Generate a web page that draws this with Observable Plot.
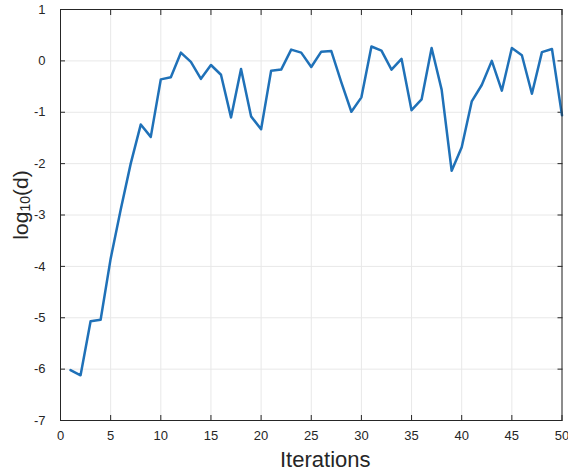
<!DOCTYPE html>
<html><head><meta charset="utf-8">
<script src="https://cdn.jsdelivr.net/npm/d3@7"></script>
<script src="https://cdn.jsdelivr.net/npm/@observablehq/plot@0.6"></script>
<style>html,body{margin:0;padding:0;background:#fff;} svg{display:block}</style>
</head><body><div id="chart"></div>
<script>
const iterations = [1,2,3,4,5,6,7,8,9,10,11,12,13,14,15,16,17,18,19,20,21,22,23,24,25,26,27,28,29,30,31,32,33,34,35,36,37,38,39,40,41,42,43,44,45,46,47,48,49,50];
const logD = [-6.02,-6.12,-5.07,-5.04,-3.85,-2.90,-2.00,-1.24,-1.48,-0.36,
              -0.32,0.16,-0.02,-0.35,-0.08,-0.27,-1.10,-0.16,-1.08,-1.33,
              -0.19,-0.17,0.22,0.16,-0.12,0.18,0.19,-0.42,-0.99,-0.71,
              0.28,0.20,-0.17,0.04,-0.96,-0.75,0.25,-0.56,-2.14,-1.68,
              -0.79,-0.47,0.00,-0.58,0.25,0.11,-0.64,0.17,0.23,-1.06];
const xTicks = [0,5,10,15,20,25,30,35,40,45,50];
const yTicks = [-7,-6,-5,-4,-3,-2,-1,0,1];
const xLabel = "Iterations";
const yLabelParts = ["log", "10", "(d)"];

const data = iterations.map((x, i) => ({x, y: logD[i]}));
const font = '"Liberation Sans", Arial, Helvetica, sans-serif';
const ink = "#262626";
const gridColor = "#e8e8e8";
const fmt = d => String(d);

const chart = Plot.plot({
  width: 568, height: 472,
  marginLeft: 60, marginRight: 6.5, marginTop: 9, marginBottom: 52,
  style: {fontFamily: font, fontSize: "13px", color: ink, background: "#fff"},
  x: {domain: [0, 50]},
  y: {domain: [-7, 1]},
  marks: [
    Plot.gridX(xTicks, {stroke: gridColor, strokeOpacity: 1}),
    Plot.gridY(yTicks, {stroke: gridColor, strokeOpacity: 1}),
    Plot.axisX(xTicks, {anchor: "bottom", tickSize: -5, tickPadding: 15.5, tickFormat: fmt, label: null}),
    Plot.axisX(xTicks, {anchor: "top", tickSize: -5, tickFormat: () => "", label: null}),
    Plot.axisY(yTicks, {anchor: "left", tickSize: -5, tickPadding: 20, tickFormat: fmt, label: null}),
    Plot.axisY(yTicks, {anchor: "right", tickSize: -5, tickFormat: () => "", label: null}),
    Plot.line(data, {x: "x", y: "y", stroke: "#1f71b8", strokeWidth: 2.5, strokeLinejoin: "round"}),
    Plot.frame({stroke: ink, strokeWidth: 1}),
    Plot.text([xLabel], {frameAnchor: "bottom", dy: 46, dx: 14, fontSize: 22, lineAnchor: "bottom", fill: ink})
  ]
});
document.getElementById("chart").appendChild(chart);

const svg = d3.select(chart);
const t = svg.append("text")
  .attr("transform", "translate(28,205) rotate(-90)")
  .attr("text-anchor", "middle")
  .attr("font-size", 21)
  .attr("font-family", font)
  .attr("fill", ink);
t.append("tspan").text(yLabelParts[0]);
t.append("tspan").attr("font-size", 14).attr("dy", 2).text(yLabelParts[1]);
t.append("tspan").attr("dy", -2).text(yLabelParts[2]);
</script>
</body></html>
